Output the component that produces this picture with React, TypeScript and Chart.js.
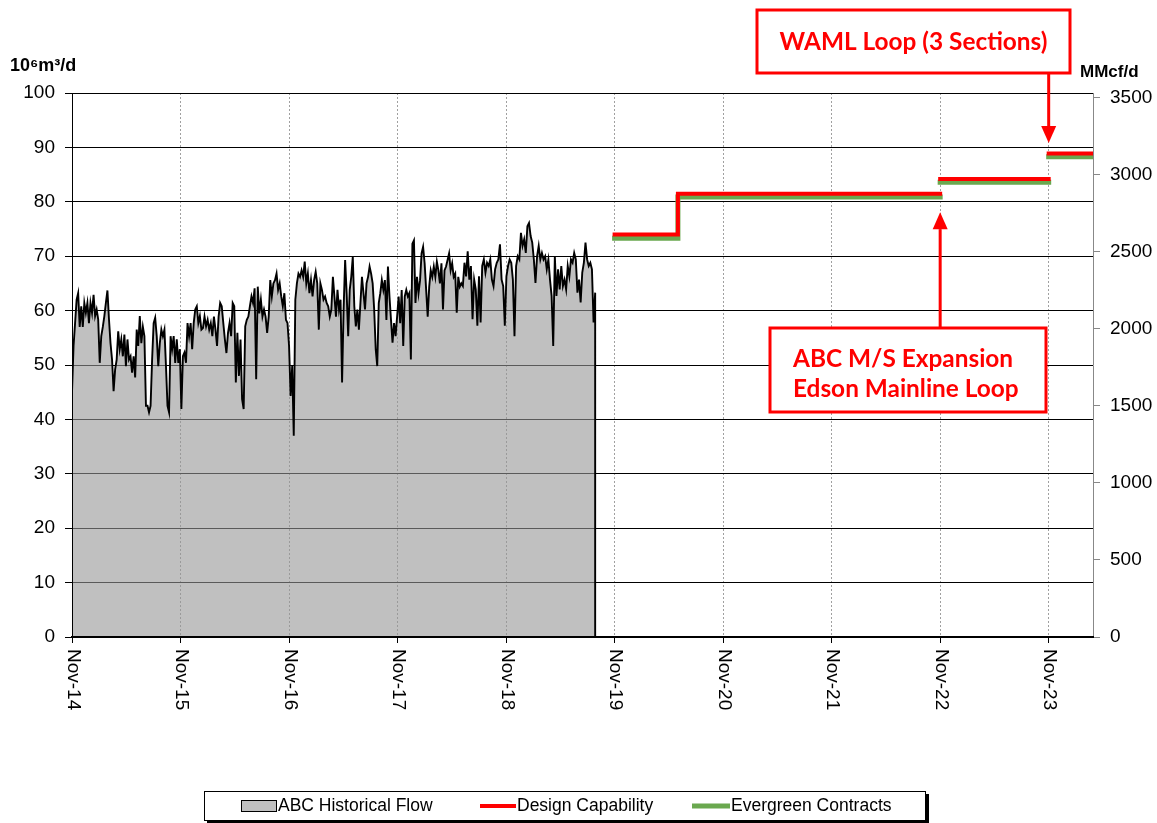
import React, { useEffect, useRef } from 'react';
import { Chart, registerables } from 'chart.js';

Chart.register(...registerables);

// ---------- data ----------
const xTickMonths = [0, 12, 24, 36, 48, 60, 72, 84, 96, 108];
const xTickLabels = ['Nov-14', 'Nov-15', 'Nov-16', 'Nov-17', 'Nov-18', 'Nov-19', 'Nov-20', 'Nov-21', 'Nov-22', 'Nov-23'];
const axisEndMonth = 112.9; // months after Nov-14

const leftTicks = [0, 10, 20, 30, 40, 50, 60, 70, 80, 90, 100];
const rightTicks = [0, 500, 1000, 1500, 2000, 2500, 3000, 3500];

// historical flow segments (10^6 m3/d), months since Nov-14 at segment boundaries
const flowSegmentBounds = [0, 14.48, 28.85, 43.22, 58.03];
const flowNov14toJan16 = [45, 53.5, 57.7, 62, 63.2, 57, 60.8, 57, 61.4, 59.6, 61.4, 57.7, 61.4, 59.6, 62.9, 59, 60.2, 58.4, 50.4, 55.3, 57, 59, 61.4, 63.7, 58.4, 54, 51, 45.2, 49.2, 51, 56.2, 52.9, 54.7, 51.6, 55.6, 49.8, 54.7, 51, 51.6, 48.6, 51.6, 47.7, 56.5, 53.5, 59, 54, 57, 55.3, 42.5, 42.5, 41.3, 42.5, 51, 57.7, 58.7, 55.3, 49.8, 54, 56.5, 55.3, 56.5, 49.8, 42.5, 41.3, 55.3, 52.9, 55.3, 50.4, 54.7, 50.4, 52.9, 41.9, 51.6, 52.3, 50.4, 57.7, 55.3, 57.7, 52.9, 57.7, 60.2, 60.8, 57.7, 59, 56.5];
const flowJan16toMar17 = [56.8, 58.9, 57.1, 58.3, 56.5, 57.7, 55.3, 58.9, 56.5, 53.5, 58.9, 61.4, 60.8, 57.7, 54.7, 52.2, 55.9, 57.7, 55.3, 61.4, 60.8, 46.8, 55.9, 48, 54.7, 43.7, 41.9, 57.1, 58.3, 58.9, 60.8, 62.6, 61.4, 64.1, 47.4, 64.4, 59.5, 62, 58.9, 60.2, 58.9, 55.9, 58.9, 65.6, 62.6, 65, 65.6, 66.8, 63.8, 65, 62.6, 60.8, 63.2, 58.3, 57.7, 53.5, 44.3, 49.8, 37, 62, 65, 66.8, 66.2, 67.4, 66.2, 69, 65, 66.8, 63.2, 65.6, 62.6, 65.6, 67.1, 65, 56.5, 65, 63.8, 62, 62.6, 61.4, 60.8, 58.9, 60.2];
const flowMar17toMay18 = [66.2, 62.6, 58.9, 63.8, 60.2, 62, 46.8, 60.2, 69.3, 63.2, 55.3, 63.8, 66.2, 69.9, 60.8, 57.1, 60.2, 56.5, 61.4, 66.2, 63.2, 60.2, 65, 66.2, 68.1, 66.8, 65, 60.2, 52.9, 49.8, 61.4, 63.2, 65.6, 63.8, 65.6, 58.3, 68.1, 62.6, 58.3, 54.1, 57.7, 55.3, 58.9, 62.6, 57.7, 63.8, 53.5, 62.6, 63.8, 62.6, 63.2, 51, 72.3, 72.9, 61.4, 66.2, 63.2, 65.6, 70.5, 71.7, 68.7, 63.8, 58.9, 64.4, 67.4, 66.2, 68.1, 66.2, 69, 67.4, 65, 68.7, 60.2, 67.4, 68.1, 69.3, 70.5, 67.4, 68.7, 66.2, 66.8, 59.6, 66.2, 64.4, 65];
const flowMay18toSep19 = [64.5, 68.8, 66.3, 70.9, 65.7, 68.2, 58.4, 65.7, 63.9, 57.2, 66.3, 57.8, 68.2, 69.4, 67, 68.8, 68.2, 69.4, 65.7, 64.5, 67.6, 68.8, 69.4, 72.2, 65.7, 64.5, 57.2, 66.3, 68.2, 69.4, 68.8, 65.7, 55.3, 68.2, 70, 69.4, 74.3, 71.9, 73.1, 70.6, 75.5, 76.1, 73.7, 72.5, 69.4, 65.1, 70, 71.9, 69.4, 70.6, 69.4, 70, 67.6, 69.4, 65.7, 62.7, 53.5, 70, 62.7, 67.6, 63.9, 68.2, 64.5, 65.7, 63.9, 68.2, 66.3, 69.4, 68.8, 70.6, 69.4, 63.3, 65.7, 61.5, 67, 68.8, 72.5, 69.4, 68.2, 68.8, 67.6, 57.8, 63.3];

// capacity steps
const capacityStepMonths = [60, 67.0, 96, 108, 112.9];
const designCapability = [74, 81.5, 84.2, 88.9];
const evergreenContracts = [73.3, 80.9, 83.6, 88.3];
const stepJoined = [true, false, false];

const mmcfPerE6m3 = 35.31;
const leftMax = 100;

// ---------- build series ----------
const flowSegments = [flowNov14toJan16, flowJan16toMar17, flowMar17toMay18, flowMay18toSep19];
const flowPoints: { x: number; y: number }[] = [];
flowSegments.forEach((vals, k) => {
  const a = flowSegmentBounds[k];
  const b = flowSegmentBounds[k + 1];
  vals.forEach((v, i) => flowPoints.push({ x: a + ((b - a) * i) / vals.length, y: v }));
});
flowPoints.push({ x: flowPoints[flowPoints.length - 1].x, y: 0 });

function buildSteps(values: number[]) {
  const pts: { x: number; y: number | null }[] = [];
  values.forEach((v, i) => {
    if (i > 0 && !stepJoined[i - 1]) pts.push({ x: capacityStepMonths[i], y: null });
    pts.push({ x: capacityStepMonths[i], y: v });
    pts.push({ x: capacityStepMonths[i + 1], y: v });
  });
  return pts;
}

const FONT = '"Liberation Sans", Arial, sans-serif';
const RED = '#FF0000';
const GREEN = '#6AA84F';
const GRAYFILL = '#C0C0C0';

const overlayPlugin = {
  id: 'overlay',
  afterDraw(chart: any) {
    const { ctx } = chart;
    const xs = chart.scales.x;
    const ys = chart.scales.y;
    ctx.save();

    // x tick labels rotated clockwise
    ctx.fillStyle = '#000';
    ctx.font = `19px ${FONT}`;
    ctx.textAlign = 'left';
    ctx.textBaseline = 'middle';
    xTickMonths.forEach((m, i) => {
      const px = xs.getPixelForValue(m);
      ctx.save();
      ctx.translate(px + 1, chart.chartArea.bottom + 12);
      ctx.rotate(Math.PI / 2);
      ctx.fillText(xTickLabels[i], 0, 0);
      ctx.restore();
    });

    // axis titles
    ctx.font = `bold 18px ${FONT}`;
    ctx.textBaseline = 'alphabetic';
    ctx.textAlign = 'left';
    ctx.fillText('10⁶m³/d', 10, 71);
    ctx.font = `bold 17px ${FONT}`;
    ctx.fillText('MMcf/d', 1080, 77);

    // annotations
    ctx.font = 'bold 24px Lato';
    const w0 = ctx.measureText('WAML Loop (3 Sections)').width;
    const annSize = (24 * 268) / w0;
    const annFont = `bold ${annSize.toFixed(2)}px Lato`;

    const drawBox = (x0: number, y0: number, x1: number, y1: number) => {
      ctx.fillStyle = '#fff';
      ctx.fillRect(x0, y0, x1 - x0, y1 - y0);
      ctx.strokeStyle = RED;
      ctx.lineWidth = 3;
      ctx.strokeRect(x0, y0, x1 - x0, y1 - y0);
    };
    const drawArrow = (x: number, yFrom: number, yTip: number) => {
      const dir = yTip > yFrom ? 1 : -1;
      const headLen = 17;
      ctx.strokeStyle = RED;
      ctx.fillStyle = RED;
      ctx.lineWidth = 3;
      ctx.beginPath();
      ctx.moveTo(x, yFrom);
      ctx.lineTo(x, yTip - dir * headLen);
      ctx.stroke();
      ctx.beginPath();
      ctx.moveTo(x, yTip);
      ctx.lineTo(x - 7.5, yTip - dir * headLen);
      ctx.lineTo(x + 7.5, yTip - dir * headLen);
      ctx.closePath();
      ctx.fill();
    };

    // WAML box + arrow down to Nov-23 step
    const xNov23 = xs.getPixelForValue(capacityStepMonths[3]);
    drawArrow(xNov23, 73, ys.getPixelForValue(90.8));
    drawBox(757, 10, 1070, 73);
    ctx.fillStyle = RED;
    ctx.font = annFont;
    ctx.textAlign = 'center';
    ctx.textBaseline = 'middle';
    ctx.fillText('WAML Loop (3 Sections)', 913.5, 42);

    // ABC box + arrow up to Nov-22 step
    const xNov22 = xs.getPixelForValue(capacityStepMonths[2]);
    drawArrow(xNov22, 328, ys.getPixelForValue(78.1));
    drawBox(770, 328, 1046, 412);
    ctx.fillStyle = RED;
    ctx.font = annFont;
    ctx.textAlign = 'left';
    ctx.textBaseline = 'alphabetic';
    ctx.fillText('ABC M/S Expansion', 793, 367);
    ctx.fillText('Edson Mainline Loop', 793, 397);

    // legend
    const lx0 = 204, ly0 = 791, lx1 = 926, ly1 = 821;
    ctx.fillStyle = '#000';
    ctx.fillRect(lx0 + 3, ly0 + 3, lx1 - lx0, ly1 - ly0);
    ctx.fillStyle = '#fff';
    ctx.fillRect(lx0, ly0, lx1 - lx0, ly1 - ly0);
    ctx.strokeStyle = '#000';
    ctx.lineWidth = 1;
    ctx.strokeRect(lx0 + 0.5, ly0 + 0.5, lx1 - lx0 - 1, ly1 - ly0 - 1);
    const ly = 806;
    ctx.fillStyle = GRAYFILL;
    ctx.fillRect(241, 801, 36, 10);
    ctx.strokeStyle = '#000';
    ctx.strokeRect(241.5, 800.5, 35, 11);
    ctx.lineWidth = 4;
    ctx.strokeStyle = RED;
    ctx.beginPath();
    ctx.moveTo(480, ly);
    ctx.lineTo(516, ly);
    ctx.stroke();
    ctx.lineWidth = 5;
    ctx.strokeStyle = GREEN;
    ctx.beginPath();
    ctx.moveTo(692, ly);
    ctx.lineTo(730, ly);
    ctx.stroke();
    ctx.fillStyle = '#000';
    ctx.font = `17.5px ${FONT}`;
    ctx.textAlign = 'left';
    ctx.textBaseline = 'middle';
    ctx.fillText('ABC Historical Flow', 278, ly);
    ctx.fillText('Design Capability', 517, ly);
    ctx.fillText('Evergreen Contracts', 731, ly);

    ctx.restore();
  },
};

export default function App() {
  const ref = useRef<HTMLCanvasElement | null>(null);
  useEffect(() => {
    if (!ref.current) return;
    const chart = new Chart(ref.current, {
      type: 'line',
      data: {
        datasets: [
          {
            label: 'Design Capability',
            data: buildSteps(designCapability) as any,
            borderColor: RED,
            borderWidth: 4,
            pointRadius: 0,
            fill: false,
            spanGaps: false,
            borderCapStyle: 'square',
            borderJoinStyle: 'miter',
            yAxisID: 'y',
          },
          {
            label: 'Evergreen Contracts',
            data: buildSteps(evergreenContracts) as any,
            borderColor: GREEN,
            borderWidth: 5,
            pointRadius: 0,
            fill: false,
            spanGaps: false,
            borderCapStyle: 'square',
            borderJoinStyle: 'miter',
            yAxisID: 'y',
          },
          {
            label: 'ABC Historical Flow',
            data: flowPoints as any,
            borderColor: '#000',
            borderWidth: 1.9,
            backgroundColor: 'rgba(150,150,150,0.6)',
            fill: 'origin',
            pointRadius: 0,
            tension: 0,
            yAxisID: 'y',
          },
        ],
      },
      options: {
        responsive: false,
        devicePixelRatio: 1,
        animation: false,
        events: [],
        layout: { padding: { top: 93, left: 0, right: 0, bottom: 0 } },
        plugins: { legend: { display: false }, tooltip: { enabled: false }, title: { display: false } },
        scales: {
          x: {
            type: 'linear',
            position: 'bottom',
            min: 0,
            max: axisEndMonth,
            afterFit: (s: any) => { s.height = 186; },
            afterBuildTicks: (s: any) => { s.ticks = xTickMonths.map((v) => ({ value: v })); },
            ticks: { display: false },
            grid: { color: '#A0A0A0', lineWidth: 1, drawTicks: true, tickLength: 6, tickColor: '#000', tickBorderDash: [] },
            border: { display: true, color: '#000', width: 2, dash: [2, 2], z: 1 },
          },
          y: {
            type: 'linear',
            position: 'left',
            min: 0,
            max: leftMax,
            afterFit: (s: any) => { s.width = 72; },
            afterBuildTicks: (s: any) => { s.ticks = leftTicks.map((v) => ({ value: v })); },
            ticks: { color: '#000', font: { family: FONT, size: 19 }, padding: 10, callback: (v: any) => String(v) },
            grid: { color: '#000', lineWidth: 1, tickLength: 7, tickColor: '#000' },
            border: { display: true, color: '#000', width: 1, z: 1 },
          },
          y2: {
            type: 'linear',
            position: 'right',
            min: 0,
            max: leftMax * mmcfPerE6m3,
            afterFit: (s: any) => { s.width = 64; },
            afterBuildTicks: (s: any) => { s.ticks = rightTicks.map((v) => ({ value: v })); },
            ticks: { color: '#000', font: { family: FONT, size: 19 }, padding: 10, callback: (v: any) => String(v) },
            grid: { drawOnChartArea: false, tickLength: 7, tickColor: '#888', color: '#888' },
            border: { display: true, color: '#888', width: 1 },
          },
        },
      } as any,
      plugins: [overlayPlugin],
    });
    return () => chart.destroy();
  }, []);
  return (
    <div style={{ position: 'absolute', left: 0, top: 0, width: 1157, height: 823, background: '#fff' }}>
      <canvas ref={ref} width={1157} height={823} style={{ display: 'block' }} />
    </div>
  );
}
